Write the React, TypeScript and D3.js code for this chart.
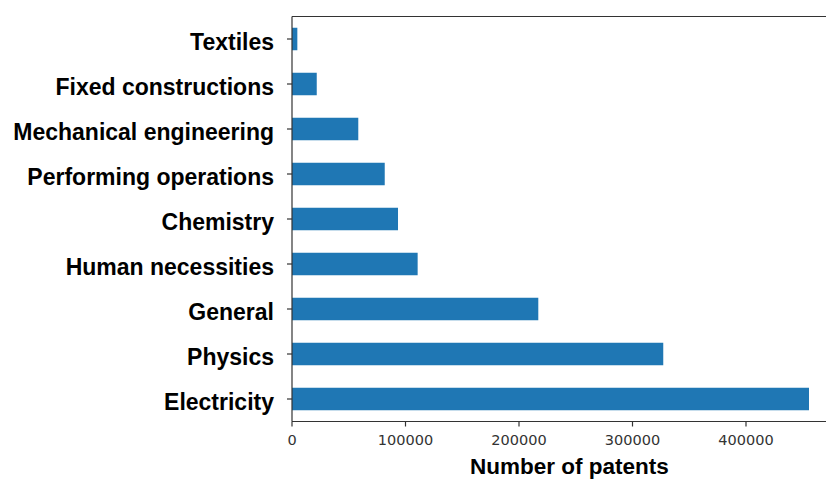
import * as d3 from "d3";

const categories = [
  "Electricity",
  "Physics",
  "General",
  "Human necessities",
  "Chemistry",
  "Performing operations",
  "Mechanical engineering",
  "Fixed constructions",
  "Textiles",
];
const patents = [455500, 327100, 217000, 110700, 93400, 81700, 58400, 21800, 4700];
const xTicks = [0, 100000, 200000, 300000, 400000];

export default function App() {
  const width = 826;
  const height = 480;
  const margin = { top: 16.5, left: 292, bottom: 421.5 };
  const xMax = d3.max(patents) ?? 0;

  const x = d3.scaleLinear()
    .domain([0, xMax * 1.05])
    .range([margin.left, margin.left + xMax * 1.05 * 0.001135]);

  // index 0 at bottom, like matplotlib barh
  const y = d3.scaleLinear()
    .domain([-0.5, categories.length - 0.5])
    .range([margin.bottom, margin.top]);

  const barH = (y(0) - y(0.5));
  const axisColor = "#333";

  return (
    <svg width={width} height={height} style={{ position: "absolute", left: 0, top: 0 }}
      fontFamily="'Liberation Sans', Arial, sans-serif">
      <rect width={width} height={height} fill="#fff" />

      {/* bars */}
      {categories.map((c, i) => (
        <rect key={c}
          x={x(0)}
          y={y(i) - barH / 2}
          width={x(patents[i]) - x(0)}
          height={barH}
          fill="#1f77b4" />
      ))}

      {/* spines */}
      <line x1={x(0)} x2={x.range()[1]} y1={margin.top} y2={margin.top} stroke={axisColor} strokeWidth={1.2} />
      <line x1={x(0)} x2={x.range()[1]} y1={margin.bottom} y2={margin.bottom} stroke={axisColor} strokeWidth={1.2} />
      <line x1={x(0)} x2={x(0)} y1={margin.top} y2={margin.bottom} stroke={axisColor} strokeWidth={1.2} />

      {/* y ticks + labels */}
      {categories.map((c, i) => (
        <g key={c} transform={`translate(0,${y(i)})`}>
          <line x1={x(0) - 5} x2={x(0)} stroke={axisColor} strokeWidth={1.2} />
          <text x={x(0) - 18} y={11} textAnchor="end" fontSize={23} fontWeight={700} fill="#000">
            {c}
          </text>
        </g>
      ))}

      {/* x ticks + labels */}
      {xTicks.map(t => (
        <g key={t} transform={`translate(${x(t)},${margin.bottom})`}>
          <line y1={0} y2={5} stroke={axisColor} strokeWidth={1.2} />
          <text y={23.5} textAnchor="middle" fontSize={14.5} fill="#333"
            fontFamily="'DejaVu Sans', sans-serif">
            {t}
          </text>
        </g>
      ))}

      {/* x axis title */}
      <text x={569.5} y={474} textAnchor="middle" fontSize={22.5} fontWeight={700} fill="#000">
        Number of patents
      </text>
    </svg>
  );
}
